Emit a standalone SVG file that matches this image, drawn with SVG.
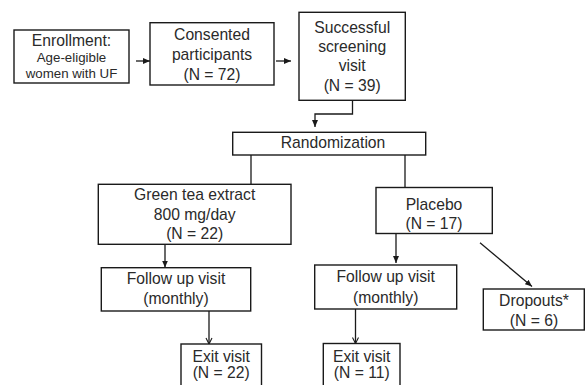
<svg xmlns="http://www.w3.org/2000/svg" width="586" height="385" viewBox="0 0 586 385">
<defs>
<style>
.box{fill:#fff;stroke:#1a1a1a;stroke-width:1.4}
.ln{fill:none;stroke:#1a1a1a;stroke-width:1.3}
text{font-family:"Liberation Sans",Arial,sans-serif;font-size:15.7px;fill:#2a2a2a;text-anchor:middle}
.sm{font-size:13.3px}
</style>
<marker id="ah" markerUnits="userSpaceOnUse" markerWidth="8" markerHeight="8" viewBox="0 0 8 8" refX="7" refY="4" orient="auto">
<path d="M0,1 L7,4 L0,7 Z" fill="#1a1a1a"/>
</marker>
<marker id="av" markerUnits="userSpaceOnUse" markerWidth="8" markerHeight="8" viewBox="0 0 8 8" refX="7" refY="4" orient="auto">
<path d="M1,1 L7,4 L1,7" fill="none" stroke="#1a1a1a" stroke-width="1.1"/>
</marker>
</defs>
<rect width="586" height="385" fill="#fff"/>
<g id="connectors">
<line class="ln" x1="136" y1="61" x2="150" y2="61" marker-end="url(#ah)"/>
<line class="ln" x1="276" y1="61" x2="291" y2="61" marker-end="url(#ah)"/>
<polyline class="ln" points="352.5,100.5 352.5,114 315,114 315,127" marker-end="url(#ah)"/>
<line class="ln" x1="251" y1="155" x2="251" y2="184.5"/>
<line class="ln" x1="405" y1="155" x2="405" y2="187.5"/>
<line class="ln" x1="165" y1="244.5" x2="165" y2="267.5" marker-end="url(#ah)"/>
<line class="ln" x1="396" y1="233.5" x2="396" y2="263" marker-end="url(#ah)"/>
<line class="ln" x1="209" y1="311" x2="209" y2="344" marker-end="url(#av)"/>
<line class="ln" x1="355.5" y1="309" x2="355.5" y2="343.5" marker-end="url(#av)"/>
<line class="ln" x1="480" y1="242.7" x2="532" y2="286.5" marker-end="url(#ah)"/>
</g>
<g id="enrollment">
<rect class="box" x="14" y="30" width="115" height="53"/>
<text x="71.5" y="46">Enrollment:</text>
<text class="sm" x="71.5" y="62">Age-eligible</text>
<text class="sm" x="71.5" y="77.5">women with UF</text>
</g>
<g id="consented">
<rect class="box" x="150" y="22.7" width="124" height="62.3"/>
<text x="212" y="40">Consented</text>
<text x="212" y="60">participants</text>
<text x="212" y="79.5">(N = 72)</text>
</g>
<g id="screening">
<rect class="box" x="299" y="12.3" width="106.3" height="88"/>
<text x="352.2" y="33.3">Successful</text>
<text x="352.2" y="52.3">screening</text>
<text x="352.2" y="71.3">visit</text>
<text x="352.2" y="90.5">(N = 39)</text>
</g>
<g id="randomization">
<rect class="box" x="232.7" y="132.3" width="193" height="22.7"/>
<text x="333" y="148.3">Randomization</text>
</g>
<g id="greentea">
<rect class="box" x="98.3" y="184.3" width="192.7" height="60"/>
<text x="194.7" y="199.5">Green tea extract</text>
<text x="194.7" y="219.5">800 mg/day</text>
<text x="194.7" y="238.7">(N = 22)</text>
</g>
<g id="placebo">
<rect class="box" x="376" y="187.5" width="116.3" height="46"/>
<text x="434" y="209.5">Placebo</text>
<text x="434" y="229">(N = 17)</text>
</g>
<g id="followup-left">
<rect class="box" x="101.3" y="267.7" width="149.4" height="43.3"/>
<text x="176" y="284">Follow up visit</text>
<text x="176" y="304">(monthly)</text>
</g>
<g id="followup-right">
<rect class="box" x="314.7" y="265" width="142" height="44"/>
<text x="385.7" y="282">Follow up visit</text>
<text x="385.7" y="303">(monthly)</text>
</g>
<g id="dropouts">
<rect class="box" x="483.3" y="289" width="101" height="41"/>
<text x="534" y="305.5">Dropouts*</text>
<text x="534" y="325.5">(N = 6)</text>
</g>
<g id="exit-left">
<rect class="box" x="181" y="344" width="80.5" height="50"/>
<text x="221.2" y="361.5">Exit visit</text>
<text x="221.2" y="378">(N = 22)</text>
</g>
<g id="exit-right">
<rect class="box" x="323.3" y="343.5" width="76.7" height="50"/>
<text x="361.7" y="361.5">Exit visit</text>
<text x="361.7" y="378">(N = 11)</text>
</g>
</svg>
